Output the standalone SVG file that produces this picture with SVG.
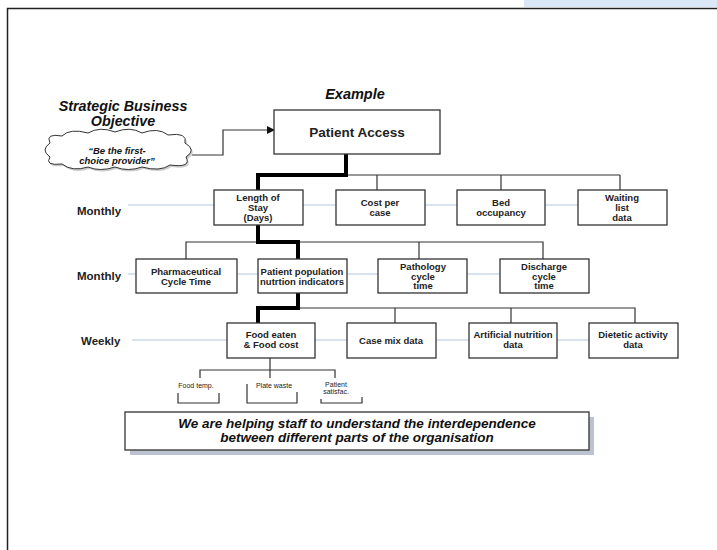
<svg xmlns="http://www.w3.org/2000/svg" width="717" height="550" viewBox="0 0 717 550">
<defs>
<style>
.box{fill:#fff;stroke:#333;stroke-width:1.3}
.t{font-family:"Liberation Sans",Arial,sans-serif;font-weight:bold;fill:#222;text-anchor:middle;font-size:9.5px}
.lbl{font-family:"Liberation Sans",Arial,sans-serif;font-weight:bold;fill:#222;font-size:11.5px}
.bi{font-family:"Liberation Sans",Arial,sans-serif;font-weight:bold;font-style:italic;fill:#111;text-anchor:middle}
.tiny{font-family:"Liberation Sans",Arial,sans-serif;fill:#222;text-anchor:middle;font-size:7px}
.thin{fill:none;stroke:#333;stroke-width:1.2}
.thick{fill:none;stroke:#000;stroke-width:4}
.blue{fill:none;stroke:#cdd8ea;stroke-width:1.5}
</style>
<marker id="arr" markerWidth="8" markerHeight="8" refX="7" refY="4" orient="auto" markerUnits="userSpaceOnUse">
<path d="M0,0 L8,4 L0,8 Z" fill="#111"/>
</marker>
</defs>
<rect x="0" y="0" width="717" height="550" fill="#fff"/>
<rect x="524" y="0" width="193" height="7" fill="#d9e7f7"/>
<rect x="7.5" y="8.5" width="720" height="560" fill="none" stroke="#222" stroke-width="1.5"/>

<g id="titles">
<text class="bi" x="355" y="99" style="font-size:14.5px">Example</text>
<text class="bi" x="123" y="111" style="font-size:14.3px">Strategic Business</text>
<text class="bi" x="123" y="126" style="font-size:14.3px">Objective</text>
</g>

<g id="blue-lines">
<line class="blue" x1="128" y1="205" x2="214" y2="205"/>
<line class="blue" x1="303" y1="205" x2="336" y2="205"/>
<line class="blue" x1="425" y1="205" x2="457" y2="205"/>
<line class="blue" x1="545" y1="205" x2="578" y2="205"/>
<line class="blue" x1="128" y1="274" x2="136" y2="274"/>
<line class="blue" x1="237" y1="274" x2="258" y2="274"/>
<line class="blue" x1="347" y1="274" x2="378" y2="274"/>
<line class="blue" x1="467" y1="274" x2="500" y2="274"/>
<line class="blue" x1="132" y1="340" x2="227" y2="340"/>
<line class="blue" x1="315" y1="340" x2="347" y2="340"/>
<line class="blue" x1="436" y1="340" x2="469" y2="340"/>
<line class="blue" x1="557" y1="340" x2="589" y2="340"/>
</g>

<g id="row-labels">
<text class="lbl" x="77" y="215">Monthly</text>
<text class="lbl" x="77" y="280">Monthly</text>
<text class="lbl" x="81" y="345">Weekly</text>
</g>

<g id="connectors">
<polyline class="thin" points="192,155 223,155 223,130 274,130" marker-end="url(#arr)"/>
<polyline class="thin" points="346,175 620,175"/>
<line class="thin" x1="377" y1="175" x2="377" y2="190"/>
<line class="thin" x1="501" y1="175" x2="501" y2="190"/>
<line class="thin" x1="620" y1="175" x2="620" y2="190"/>
<polyline class="thin" points="186,259 186,242 543,242 543,259"/>
<line class="thin" x1="419" y1="242" x2="419" y2="259"/>
<polyline class="thin" points="298,308 635,308 635,323"/>
<line class="thin" x1="395" y1="308" x2="395" y2="323"/>
<line class="thin" x1="511" y1="308" x2="511" y2="323"/>
<line class="thin" x1="270" y1="358" x2="270" y2="370"/>
<polyline class="thin" points="200,378 200,370 335,370 335,378"/>
<line class="thin" x1="270" y1="370" x2="270" y2="378"/>
<polyline class="thick" points="346,154 346,175 258,175 258,190"/>
<polyline class="thick" points="258,225 258,242 298,242 298,259"/>
<polyline class="thick" points="298,293 298,308 258,308 258,323"/>
</g>

<g id="cloud">
<path d="M50,143 Q45,133 62,136 Q70,128 88,133 Q100,126 115,132 Q130,126 142,133 Q158,127 168,135 Q188,132 185,143 Q197,150 186,157 Q192,168 170,165 Q160,172 142,167 Q128,172 115,167 Q100,172 88,167 Q72,172 62,164 Q44,166 50,157 Q40,150 50,143 Z" fill="#ccc" transform="translate(1.5,2)"/>
<path d="M50,143 Q45,133 62,136 Q70,128 88,133 Q100,126 115,132 Q130,126 142,133 Q158,127 168,135 Q188,132 185,143 Q197,150 186,157 Q192,168 170,165 Q160,172 142,167 Q128,172 115,167 Q100,172 88,167 Q72,172 62,164 Q44,166 50,157 Q40,150 50,143 Z" fill="#fff" stroke="#333" stroke-width="1"/>
<text class="bi" x="117" y="154" style="font-size:9.5px">“Be the first-</text>
<text class="bi" x="117" y="164" style="font-size:9.5px">choice provider”</text>
</g>

<g id="patient-access">
<rect class="box" x="274" y="110" width="166" height="44"/>
<text class="t" x="357" y="137" style="font-size:13.5px">Patient Access</text>
</g>

<g id="length-of-stay">
<rect class="box" x="214" y="190" width="89" height="35"/>
<text class="t" x="258" y="201">Length of</text>
<text class="t" x="258" y="211">Stay</text>
<text class="t" x="258" y="220.5">(Days)</text>
</g>
<g id="cost-per-case">
<rect class="box" x="336" y="190" width="89" height="35"/>
<text class="t" x="380" y="206">Cost per</text>
<text class="t" x="380" y="215.5">case</text>
</g>
<g id="bed-occupancy">
<rect class="box" x="457" y="190" width="88" height="35"/>
<text class="t" x="501" y="206">Bed</text>
<text class="t" x="501" y="215.5">occupancy</text>
</g>
<g id="waiting-list">
<rect class="box" x="578" y="190" width="89" height="35"/>
<text class="t" x="622" y="201">Waiting</text>
<text class="t" x="622" y="211">list</text>
<text class="t" x="622" y="220.5">data</text>
</g>

<g id="pharmaceutical">
<rect class="box" x="136" y="259" width="101" height="34"/>
<text class="t" x="186" y="275">Pharmaceutical</text>
<text class="t" x="186" y="284.5">Cycle Time</text>
</g>
<g id="patient-population">
<rect class="box" x="258" y="259" width="89" height="34"/>
<text class="t" x="302" y="275">Patient population</text>
<text class="t" x="302" y="284.5">nutrtion indicators</text>
</g>
<g id="pathology">
<rect class="box" x="378" y="259" width="89" height="34"/>
<text class="t" x="423" y="270">Pathology</text>
<text class="t" x="423" y="279.5">cycle</text>
<text class="t" x="423" y="289">time</text>
</g>
<g id="discharge">
<rect class="box" x="500" y="259" width="89" height="34"/>
<text class="t" x="544" y="270">Discharge</text>
<text class="t" x="544" y="279.5">cycle</text>
<text class="t" x="544" y="289">time</text>
</g>

<g id="food-eaten">
<rect class="box" x="227" y="323" width="88" height="35"/>
<text class="t" x="271" y="338">Food eaten</text>
<text class="t" x="271" y="347.5">&amp; Food cost</text>
</g>
<g id="case-mix">
<rect class="box" x="347" y="323" width="89" height="35"/>
<text class="t" x="391" y="343.5">Case mix data</text>
</g>
<g id="artificial-nutrition">
<rect class="box" x="469" y="323" width="88" height="35"/>
<text class="t" x="513" y="338">Artificial nutrition</text>
<text class="t" x="513" y="347.5">data</text>
</g>
<g id="dietetic-activity">
<rect class="box" x="589" y="323" width="89" height="35"/>
<text class="t" x="633" y="338">Dietetic activity</text>
<text class="t" x="633" y="347.5">data</text>
</g>

<g id="food-temp">
<text class="tiny" x="196" y="388">Food temp.</text>
<polyline class="thin" stroke-width="1" points="178,393 178,403 219,403 219,393"/>
</g>
<g id="plate-waste">
<text class="tiny" x="274" y="388">Plate waste</text>
<polyline class="thin" stroke-width="1" points="247,384 247,403 297,403 297,392"/>
</g>
<g id="patient-satisfac">
<text class="tiny" x="336" y="387">Patient</text>
<text class="tiny" x="336" y="394">satisfac.</text>
<polyline class="thin" stroke-width="1" points="321,399 321,403 362,403 362,397"/>
</g>

<g id="summary">
<rect x="130" y="417" width="464" height="38" fill="#bcc3d0"/>
<rect class="box" x="125" y="412" width="464" height="38"/>
<text class="bi" x="357" y="428" style="font-size:13.5px">We are helping staff to understand the interdependence</text>
<text class="bi" x="357" y="442" style="font-size:13.5px">between different parts of the organisation</text>
</g>
</svg>
